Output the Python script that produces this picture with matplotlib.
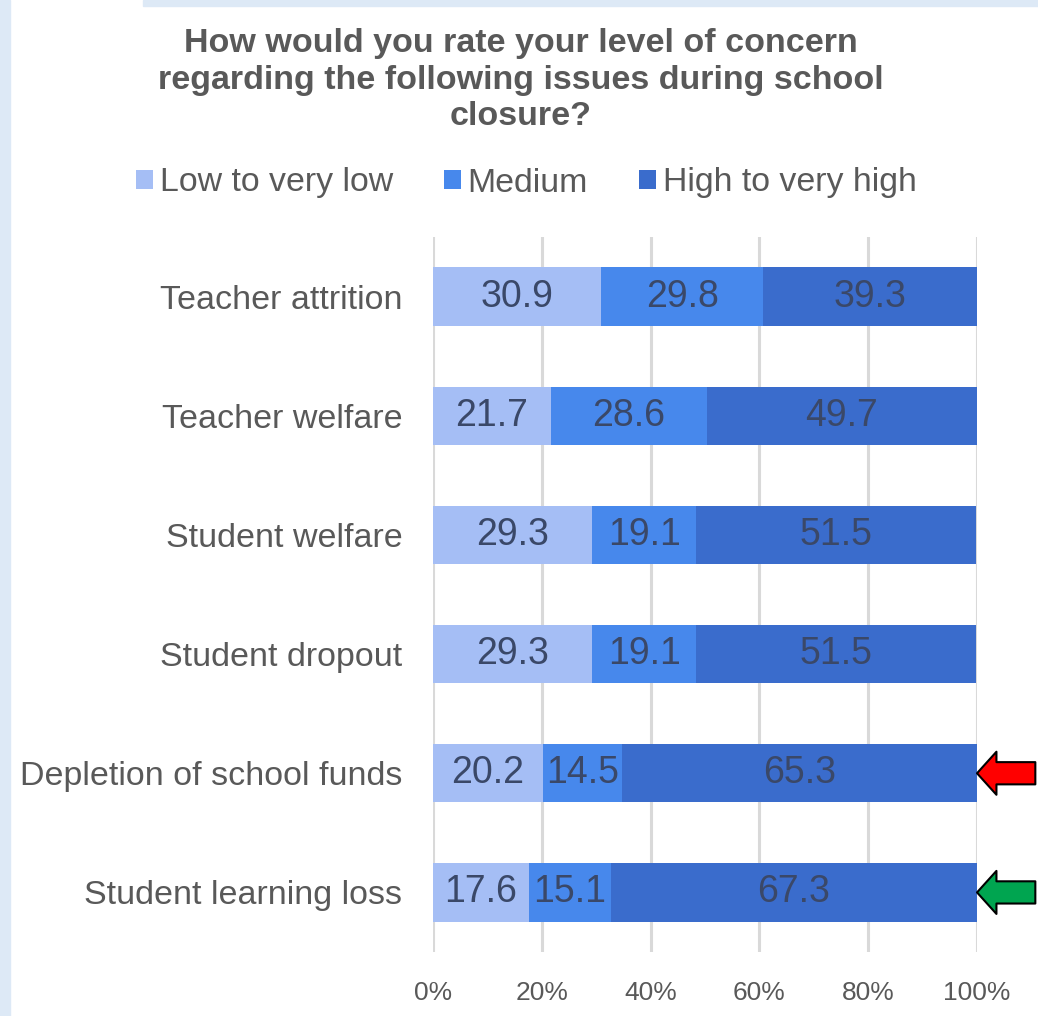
import matplotlib
matplotlib.use("Agg")
import matplotlib.pyplot as plt
from matplotlib.patches import Rectangle

plt.rcParams['font.family'] = ['Liberation Sans', 'DejaVu Sans']

categories = ["Teacher attrition", "Teacher welfare", "Student welfare",
              "Student dropout", "Depletion of school funds", "Student learning loss"]
low = [30.9, 21.7, 29.3, 29.3, 20.2, 17.6]
medium = [29.8, 28.6, 19.1, 19.1, 14.5, 15.1]
high = [39.3, 49.7, 51.5, 51.5, 65.3, 67.3]
series_names = ["Low to very low", "Medium", "High to very high"]
colors = ["#a5bef5", "#4788ec", "#3a6ccc"]
xticks = [0, 20, 40, 60, 80, 100]
xticklabels = ["0%", "20%", "40%", "60%", "80%", "100%"]
arrow_rows = {"Depletion of school funds": "#ff0000", "Student learning loss": "#00a550"}

fig = plt.figure(figsize=(10.38, 10.16), dpi=100)
fig.patch.set_facecolor("white")
# light frame strips
fig.add_artist(Rectangle((0, 0), 10/1038, 1, transform=fig.transFigure, color="#dde9f6", zorder=0))
fig.add_artist(Rectangle((143/1038, 1-6/1016), 1, 6/1016, transform=fig.transFigure, color="#dde9f6", zorder=0))

ax = fig.add_axes([433/1038, 64/1016, 544/1038, 715/1016])
ypos = list(range(len(categories)))
lefts = [0]*len(categories)
for name, vals, col in zip(series_names, [low, medium, high], colors):
    bars = ax.barh(ypos, vals, left=lefts, height=0.49, color=col, label=name, zorder=2)
    for b, v, l in zip(bars, vals, lefts):
        ax.text(l + v/2, b.get_y() + b.get_height()/2, f"{v:.1f}", ha="center", va="center",
                fontsize=27, color="#3a4868", zorder=3)
    lefts = [a + b for a, b in zip(lefts, vals)]

ax.set_xlim(0, 100)
ax.set_ylim(len(categories) - 0.5, -0.5)
ax.set_yticks(ypos)
ax.set_yticklabels(categories, fontsize=24.5, color="#595959")
ax.set_xticks(xticks)
ax.set_xticklabels(xticklabels, fontsize=19, color="#595959")
ax.tick_params(axis="y", length=0, pad=22)
ax.tick_params(axis="x", length=0, pad=21)
for s in ax.spines.values():
    s.set_visible(False)
ax.grid(axis="x", color="#d9d9d9", linewidth=2.2, zorder=0)
ax.set_axisbelow(True)

for cat, col in arrow_rows.items():
    idx = categories.index(cat)
    ax.annotate("", xy=(100, idx), xytext=(42, 0), textcoords="offset points",
                annotation_clip=False,
                arrowprops=dict(arrowstyle="simple,head_length=0.7,head_width=1.55,tail_width=0.8",
                                fc=col, ec="black", lw=1.5, shrinkA=0, shrinkB=0, mutation_scale=20))

fig.text(0.502, 1 - 80/1016,
         "How would you rate your level of concern\nregarding the following issues during school\nclosure?",
         ha="center", va="center", fontsize=24.5, fontweight="bold", color="#595959", linespacing=1.22)

handles, labels = ax.get_legend_handles_labels()
fig.legend(handles, labels, loc="center", bbox_to_anchor=(0.507, 1 - 183/1016), ncol=3,
           frameon=False, fontsize=24.4, handlelength=0.5, handleheight=0.5, handletextpad=0.2,
           columnspacing=1.5, labelcolor="#595959")

fig.savefig("out.png", dpi=100)
